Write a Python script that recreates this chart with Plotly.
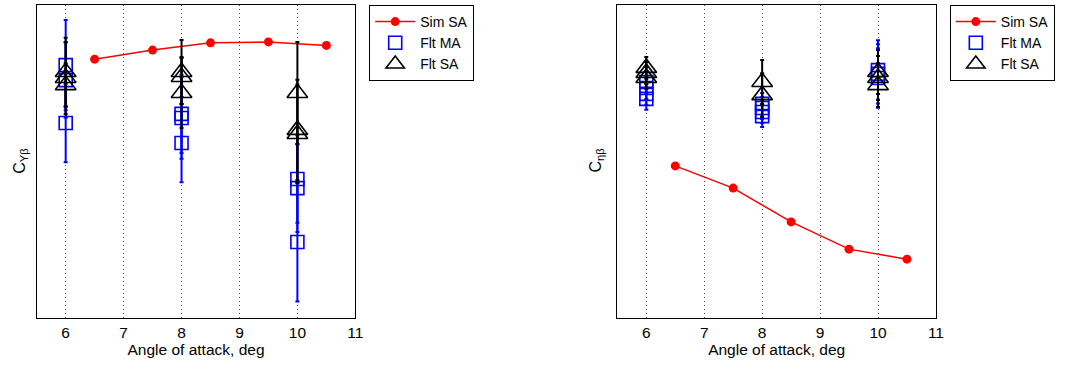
import plotly.graph_objects as go

# ---- data (arbitrary normalized units; y-axes carry no tick labels) ----
sim_alpha = [6.5, 7.5, 8.5, 9.5, 10.5]
cyb_sim = [0.827, 0.856, 0.879, 0.882, 0.871]
cnb_sim = [0.486, 0.415, 0.307, 0.220, 0.188]

# Left panel: C_Y_beta flight estimates
cyb_ma_alpha = [6, 6, 6, 8, 8, 8, 10, 10, 10]
cyb_ma = [0.808, 0.760, 0.623, 0.652, 0.639, 0.559, 0.444, 0.415, 0.243]
cyb_ma_err = [0.144, 0.120, 0.125, 0.125, 0.130, 0.125, 0.140, 0.140, 0.190]

cyb_sa_alpha = [6, 6, 6, 8, 8, 8, 10, 10, 10]
cyb_sa = [0.786, 0.767, 0.744, 0.786, 0.770, 0.719, 0.719, 0.601, 0.588]
cyb_sa_err = [0.109, 0.115, 0.070, 0.102, 0.064, 0.112, 0.163, 0.160, 0.157]

# Right panel: C_n_beta flight estimates
cnb_ma_alpha = [6, 6, 6, 6, 8, 8, 8, 8, 10, 10, 10]
cnb_ma = [0.754, 0.735, 0.716, 0.700, 0.684, 0.671, 0.658, 0.645, 0.792, 0.780, 0.767]
cnb_ma_err = [0.035, 0.035, 0.035, 0.035, 0.035, 0.035, 0.035, 0.035, 0.095, 0.095, 0.095]

cnb_sa_alpha = [6, 6, 6, 8, 8, 10, 10, 10]
cnb_sa = [0.799, 0.783, 0.767, 0.754, 0.712, 0.786, 0.767, 0.744]
cnb_sa_err = [0.035, 0.035, 0.035, 0.070, 0.070, 0.070, 0.070, 0.070]

x_ticks = [6, 7, 8, 9, 10, 11]

FONT = "Liberation Sans, Arial, sans-serif"
FS = 15.5
W, H = 1067, 366

fig = go.Figure()


def add_panel(xa, ya, legend, sim_y, ma_x, ma_y, ma_e, sa_x, sa_y, sa_e):
    fig.add_trace(go.Scatter(
        x=sim_alpha, y=sim_y, mode="lines+markers", name="Sim SA",
        line=dict(color="#ff0000", width=1.5),
        marker=dict(symbol="circle", size=9, color="#ff0000"),
        xaxis=xa, yaxis=ya, legend=legend))
    fig.add_trace(go.Scatter(
        x=ma_x, y=ma_y, mode="markers", name="Flt MA",
        marker=dict(symbol="square-open", size=13, color="#0000ff",
                    line=dict(width=1.6, color="#0000ff")),
        error_y=dict(type="data", array=ma_e, visible=True,
                     color="#0000ff", thickness=2, width=2),
        xaxis=xa, yaxis=ya, legend=legend))
    fig.add_trace(go.Scatter(
        x=sa_x, y=sa_y, mode="markers", name="Flt SA",
        marker=dict(symbol="triangle-up-open", size=18, color="#000000",
                    line=dict(width=1.6, color="#000000")),
        error_y=dict(type="data", array=sa_e, visible=True,
                     color="#000000", thickness=2, width=2),
        xaxis=xa, yaxis=ya, legend=legend))


add_panel("x", "y", "legend", cyb_sim, cyb_ma_alpha, cyb_ma, cyb_ma_err,
          cyb_sa_alpha, cyb_sa, cyb_sa_err)
add_panel("x2", "y2", "legend2", cnb_sim, cnb_ma_alpha, cnb_ma, cnb_ma_err,
          cnb_sa_alpha, cnb_sa, cnb_sa_err)

ydom = [(366 - 318) / H, (366 - 5) / H]

xcommon = dict(range=[5.5, 11], tickvals=x_ticks, ticktext=[str(t) for t in x_ticks],
               showline=True, linecolor="black", linewidth=1.2, mirror=True,
               showgrid=True, gridcolor="rgba(0,0,0,0.7)", griddash="1px,3px", gridwidth=1,
               zeroline=False, ticks="", tickfont=dict(family=FONT, size=FS, color="black"),
               title=dict(text="Angle of attack, deg", font=dict(family=FONT, size=FS, color="black"),
                          standoff=0))
ycommon = dict(range=[0, 1], showline=True, linecolor="black", linewidth=1.2, mirror=True,
               showgrid=False, zeroline=False, showticklabels=False, ticks="", domain=ydom)

legcommon = dict(bgcolor="white", bordercolor="black", borderwidth=1,
                 font=dict(family=FONT, size=14, color="black"),
                 xanchor="left", yanchor="top", y=(366 - 5) / H,
                 itemwidth=40, tracegroupgap=0)

fig.update_layout(
    width=W, height=H,
    margin=dict(l=0, r=0, t=0, b=0),
    paper_bgcolor="white", plot_bgcolor="white",
    xaxis=dict(domain=[37 / W, 358 / W], anchor="y", **xcommon),
    yaxis=dict(anchor="x", **ycommon),
    xaxis2=dict(domain=[622 / W, 943 / W], anchor="y2", **xcommon),
    yaxis2=dict(anchor="x2", **ycommon),
    legend=dict(x=372 / W, **legcommon),
    legend2=dict(x=957 / W, **legcommon),
    showlegend=True,
)

fig.add_annotation(text="C<sub>Yβ</sub>", xref="paper", yref="paper",
                   x=20 / W, y=(366 - 161) / H, xanchor="center", yanchor="middle",
                   textangle=-90, showarrow=False,
                   font=dict(family=FONT, size=16, color="black"))
fig.add_annotation(text="C<sub>ηβ</sub>", xref="paper", yref="paper",
                   x=600 / W, y=(366 - 161) / H, xanchor="center", yanchor="middle",
                   textangle=-90, showarrow=False,
                   font=dict(family=FONT, size=16, color="black"))

fig.write_html("out.html")
